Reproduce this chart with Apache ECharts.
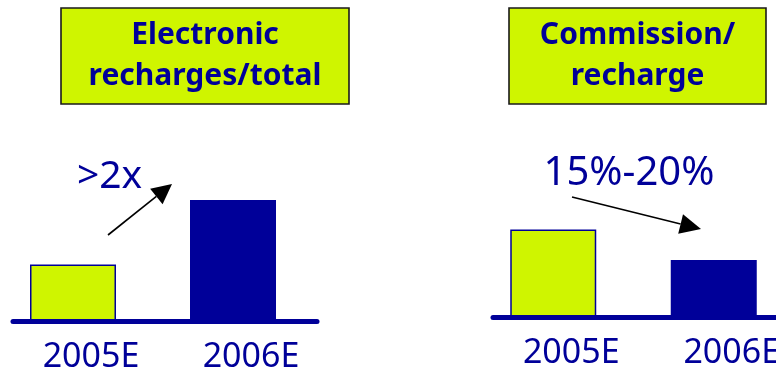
<!DOCTYPE html>
<html><head><meta charset="utf-8">
<script src="https://cdn.jsdelivr.net/npm/echarts@6/dist/echarts.min.js"></script>
<style>html,body{margin:0;padding:0;background:#fff}#c{width:776px;height:374px}</style>
</head><body><div id="c"></div>
<script>
// ---- data ----
const categories = ['2005E', '2006E'];
const electronicShare = [28.3, 60.5];        // Electronic recharges / total (relative)
const commissionPerRecharge = [43.8, 28.5];  // Commission / recharge (relative)
const panelTitles = ['Electronic\nrecharges/total', 'Commission/\nrecharge'];
const changeLabels = ['>2x', '15%-20%'];

// ---- styles ----
const BLUE = '#000099';
const LIME = '#CFF500';
const FONT = '"Noto Sans", "Open Sans", sans-serif';

const chart = echarts.init(document.getElementById('c'), null, {renderer: 'canvas'});

function barData(vals) {
  return vals.map((v, i) => ({
    value: v,
    itemStyle: i === 0
      ? {color: LIME, borderColor: BLUE, borderWidth: 1.5}
      : {color: BLUE}
  }));
}

function catAxis(gridIndex, showLabels) {
  return {
    type: 'category', gridIndex, data: categories,
    axisTick: {show: false},
    axisLine: showLabels ? {show: false} : {show: true, onZero: true, lineStyle: {color: BLUE, width: 5}},
    axisLabel: showLabels ? {
      show: true, color: BLUE, fontSize: 34, fontFamily: FONT, margin: 19,
      padding: [0, 0, 0, 36]
    } : {show: false},
    z: showLabels ? 0 : 10
  };
}
function valAxis(gridIndex) {
  return {type: 'value', gridIndex, min: 0, max: 100, show: false, splitLine: {show: false}};
}
function grid(left, width, top) {
  return {left, width, top, height: 200, containLabel: false, outerBoundsMode: 'none'};
}

function arrow(x1, y1, x2, y2, len, hw) {
  const dx = x2 - x1, dy = y2 - y1, d = Math.hypot(dx, dy);
  const ux = dx / d, uy = dy / d;
  const bx = x2 - ux * len, by = y2 - uy * len;
  return [
    {type: 'line', shape: {x1, y1, x2: bx, y2: by}, style: {stroke: '#000', lineWidth: 1.6}, z: 20},
    {type: 'polygon', shape: {points: [[x2, y2], [bx - uy * hw, by + ux * hw], [bx + uy * hw, by - ux * hw]]},
     style: {fill: '#000'}, z: 20}
  ];
}

function titleBox(x, y, w, h, text) {
  return [
    {type: 'rect', shape: {x, y, width: w, height: h}, style: {fill: LIME, stroke: '#1a1a1a', lineWidth: 1.6}, z: 5},
    {type: 'text', z: 6, style: {text, x: x + w / 2, y: y + h / 2, align: 'center', verticalAlign: 'middle',
      fontSize: 30, fontWeight: 'bold', fontFamily: FONT, lineHeight: 41, fill: BLUE}}
  ];
}

const option = {
  animation: false,
  backgroundColor: '#fff',
  grid: [
    grid(-7, 320, 121),
    grid(473, 321, 117),
    grid(13, 304, 121),
    grid(493, 290, 117)
  ],
  xAxis: [catAxis(0, true), catAxis(1, true), catAxis(2, false), catAxis(3, false)],
  yAxis: [valAxis(0), valAxis(1), valAxis(2), valAxis(3)],
  series: [
    {type: 'bar', xAxisIndex: 0, yAxisIndex: 0, barWidth: 86, data: barData(electronicShare), z: 2},
    {type: 'bar', xAxisIndex: 1, yAxisIndex: 1, barWidth: 86, data: barData(commissionPerRecharge), z: 2}
  ],
  graphic: [
    ...titleBox(61, 8, 288, 96, panelTitles[0]),
    ...titleBox(509, 8, 257, 96, panelTitles[1]),
    {type: 'text', z: 6, style: {text: changeLabels[0], x: 77, y: 177, align: 'left', verticalAlign: 'middle',
      fontSize: 39, fontFamily: FONT, fill: BLUE}},
    {type: 'text', z: 6, style: {text: changeLabels[1], x: 629, y: 174, align: 'center', verticalAlign: 'middle',
      fontSize: 40, fontFamily: FONT, fill: BLUE}},
    ...arrow(108, 235, 172, 184, 20, 10),
    ...arrow(572, 197, 701, 229, 21, 10)
  ]
};
chart.setOption(option);
</script>
</body></html>
